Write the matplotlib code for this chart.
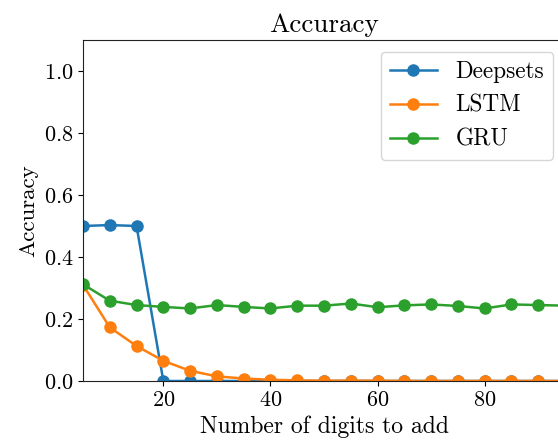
import matplotlib
matplotlib.use("Agg")
import matplotlib.pyplot as plt
import numpy as np

plt.rcParams['font.family'] = 'serif'
plt.rcParams['font.serif'] = ['cmr10']
plt.rcParams['mathtext.fontset'] = 'cm'
plt.rcParams['axes.formatter.use_mathtext'] = True
plt.rcParams['font.size'] = 16

# number of digits added vs. test accuracy per model
digits = [5, 10, 15, 20, 25, 30, 35, 40, 45, 50, 55, 60, 65, 70, 75, 80, 85, 90, 95]
deepsets = [0.500, 0.503, 0.500, 0.0, 0.0, 0.0, 0.0, 0.0, 0.0, 0.0,
            0.0, 0.0, 0.0, 0.0, 0.0, 0.0, 0.0, 0.0, 0.0]
lstm = [0.310, 0.173, 0.113, 0.065, 0.033, 0.015, 0.008, 0.004, 0.002, 0.001,
        0.001, 0.001, 0.0, 0.0, 0.0, 0.0, 0.0, 0.0, 0.0]
gru = [0.312, 0.259, 0.245, 0.239, 0.234, 0.245, 0.239, 0.234, 0.243, 0.243,
       0.250, 0.238, 0.244, 0.247, 0.242, 0.234, 0.247, 0.245, 0.243]

fig = plt.figure(figsize=(5.58, 4.43), dpi=100)
# axes runs slightly past the right edge of the canvas
ax = fig.add_axes([83 / 558, 1 - 381 / 443, (565 - 83) / 558, (381 - 40) / 443])

ax.plot(digits, deepsets, marker='o', markersize=8, linewidth=1.8, label='Deepsets')
ax.plot(digits, lstm, marker='o', markersize=8, linewidth=1.8, label='LSTM')
ax.plot(digits, gru, marker='o', markersize=8, linewidth=1.8, label='GRU')

ax.set_xlim(5, 95)
ax.set_ylim(0, 1.1)
ax.set_xticks([20, 40, 60, 80])
ax.set_yticks([0.0, 0.2, 0.4, 0.6, 0.8, 1.0])
ax.set_title('Accuracy', fontsize=19.5)
ax.set_xlabel('Number of digits to add', fontsize=17)
ax.set_ylabel('Accuracy', fontsize=16.5)
for spine in ax.spines.values():
    spine.set_color('#222222')

ax.legend(loc='upper right', fontsize=16.8)

fig.savefig('out.png', dpi=100)
